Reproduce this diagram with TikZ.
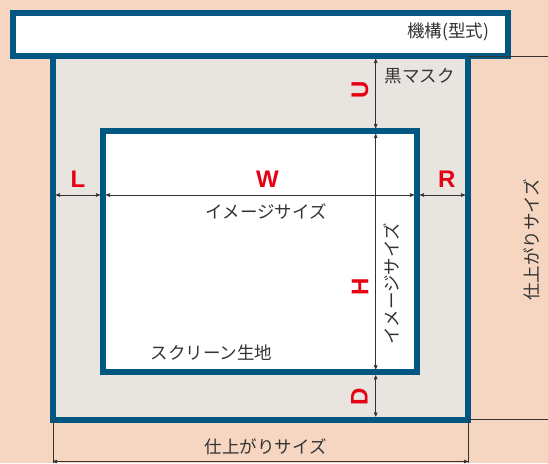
\documentclass[tikz,border=0pt]{standalone}
\usepackage{fontspec}
\setmainfont{Liberation Sans}
\newfontfamily\jpfont{Noto Sans CJK JP}
\usetikzlibrary{positioning}
\usetikzlibrary{arrows}
\usetikzlibrary{calc}
\definecolor{peach}{RGB}{246,214,193}
\definecolor{maskgray}{RGB}{232,228,224}
\definecolor{frameblue}{RGB}{0,88,130}
\definecolor{dimred}{RGB}{230,0,18}
\definecolor{ink}{RGB}{51,51,51}
\tikzset{>=stealth'}
\tikzset{panel/.style={draw=frameblue, line width=6pt, inner sep=0pt}}
\tikzset{dim/.style={<->, draw=ink, line width=0.6pt}}
\tikzset{ext/.style={draw=ink, line width=0.6pt}}
\tikzset{lbl/.style={text=ink, font=\jpfont\fontsize{17.5}{17.5}\selectfont, inner sep=0pt}}
\tikzset{sym/.style={text=dimred, font=\bfseries\fontsize{24}{24}\selectfont, inner sep=0pt}}

\begin{document}
\begin{tikzpicture}[x=1pt, y=-1pt]
        \useasboundingbox (0,0) rectangle (548,463);
        \fill[peach] (0,0) rectangle (548,463);

        \node[panel, fill=maskgray, minimum width=415pt, minimum height=363.5pt] (mask) at (260.5,237.75) {};
        \node[panel, fill=white, minimum width=495pt, minimum height=43.5pt] (mech) at (260.5,34.25) {};
        \node[panel, fill=white, minimum width=314pt, minimum height=241.3pt] (screen) at (260,251.65) {};

        % dimension points
        \coordinate (lA) at (56,195);
        \coordinate (lB) at (100,195);
        \coordinate (wA) at (106,195);
        \coordinate (wB) at (414,195);
        \coordinate (rA) at (420,195);
        \coordinate (rB) at (465,195);

        \coordinate (uA) at (375.7,59);
        \coordinate (uB) at (375.7,128);
        \coordinate (hA) at (375.7,134);
        \coordinate (hB) at (375.7,369.3);
        \coordinate (dA) at (375.7,375.3);
        \coordinate (dB) at (375.7,416.5);

        \coordinate (eTL) at (468,56);
        \coordinate (eTR) at (548,56);
        \coordinate (eBL) at (468,419.5);
        \coordinate (eBR) at (548,419.5);
        \coordinate (eLU) at (53,419.5);
        \coordinate (eLD) at (53,463);
        \coordinate (eRD) at (468,463);

        \coordinate (bA) at (53,461.5);
        \coordinate (bB) at (468,461.5);
        \coordinate (sA) at (549.6,56);
        \coordinate (sB) at (549.6,419.5);

        \draw [dim] (lA) -- (lB);
        \draw [dim] (wA) -- (wB);
        \draw [dim] (rA) -- (rB);
        \draw [dim] (uA) -- (uB);
        \draw [dim] (hA) -- (hB);
        \draw [dim] (dA) -- (dB);

        \draw [ext] (eTL) -- (eTR);
        \draw [ext] (eBL) -- (eBR);
        \draw [ext] (eLU) -- (eLD);
        \draw [ext] (eBL) -- (eRD);
        \draw [dim] (bA) -- (bB);
        \draw [dim] (sA) -- (sB);

        \node[lbl] (mechtxt) at (448,32.3) {機構(型式)};
        \node[lbl] (masktxt) at (419.5,76) {黒マスク};
        \node[sym, rotate=90] (U) at (360,90) {U};

        \node[sym] (L) at (78,179) {L};
        \node[sym] (W) at (267.4,179) {W};
        \node[sym] (R) at (446.7,179) {R};
        \node[lbl] (imgw) at (266,211.7) {イメージサイズ};

        \node[sym, rotate=90] (H) at (360,287) {H};
        \node[lbl, rotate=90] (imgh) at (391.5,284) {イメージサイズ};
        \node[lbl] (fabric) at (211.5,352.7) {スクリーン生地};
        \node[sym, rotate=90] (D) at (359.3,396.7) {D};

        \node[lbl] (finw) at (265.6,446.7) {仕上がりサイズ};
        \node[lbl, rotate=90] (finh) at (531.7,240) {仕上がりサイズ};
    \end{tikzpicture}
\end{document}
